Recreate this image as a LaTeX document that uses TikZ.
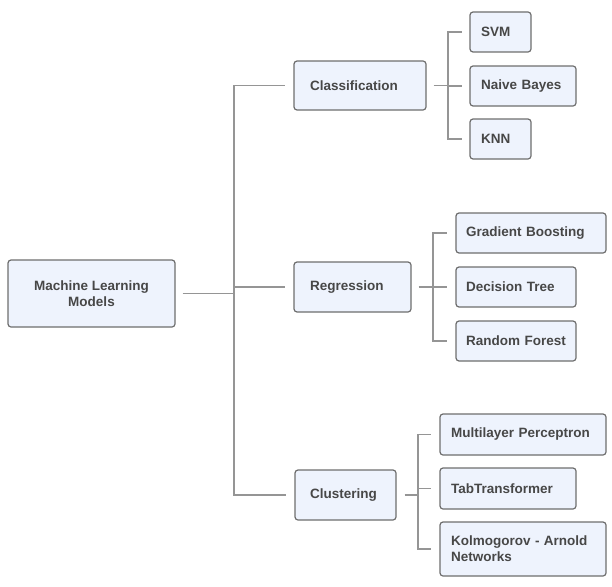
\documentclass[tikz,border=0pt]{standalone}
\usepackage{fontspec}
\setmainfont{Liberation Sans}
\usetikzlibrary{calc}
\definecolor{boxfill}{HTML}{EEF3FD}
\definecolor{boxline}{HTML}{6E6E6E}
\definecolor{txt}{HTML}{474747}
\definecolor{wire}{HTML}{959595}
\tikzset{
  box/.style={draw=boxline, fill=boxfill, line width=1.2pt, rounded corners=3pt,
    text=txt, font=\fontsize{13.5}{16}\selectfont\bfseries, inner ysep=0pt},
  conn/.style={draw=wire, line width=1.7pt},
}
% centred box: name, x, y, width, height
\newcommand{\cbx}[5]{%
  \node[box, align=center, inner xsep=0pt, minimum width=#4pt, minimum height=#5pt] (#1) at (#2,#3)}
% left-aligned box: name, x, y, width, height, left padding
\newcommand{\lbx}[6]{%
  \pgfmathsetmacro{\tw}{#4-2*#6}%
  \node[box, align=left, inner xsep=#6pt, text width=\tw pt, minimum height=#5pt] (#1) at (#2,#3)}
\begin{document}
\begin{tikzpicture}[x=1pt,y=-1pt]
\useasboundingbox (0,0) rectangle (612,586);

% root and categories
\cbx{root}{91.5}{293.5}{167}{67}{Machine Learning\\Models};
\lbx{cls}{360}{85.5}{132}{49}{16}{Classification};
\lbx{reg}{352.5}{287}{117}{50}{16}{Regression};
\lbx{clu}{345.5}{495}{101}{50}{15}{Clustering};

% leaves
\lbx{svm}{500.5}{32}{61}{40}{11}{SVM};
\lbx{nb}{523}{86}{106}{40}{11}{Naive Bayes};
\lbx{knn}{500.5}{139}{61}{40}{11}{KNN};
\lbx{gb}{531}{233}{150}{40}{10}{Gradient Boosting};
\lbx{dt}{516}{287}{120}{40}{10}{Decision Tree};
\lbx{rf}{516}{341}{120}{40}{10}{Random Forest};
\lbx{mlp}{523}{434.5}{166}{41}{11}{Multilayer Perceptron};
\lbx{tab}{508}{488.5}{136}{41}{11}{TabTransformer};
\lbx{kan}{523}{549}{166}{54}{11}{Kolmogorov - Arnold\\Networks};

% x positions of the vertical bars
\coordinate (mainbar) at (234,0);
\coordinate (clsbar) at (448,0);
\coordinate (regbar) at (433,0);
\coordinate (clubar) at (418,0);

% root to categories
\draw[conn, shorten <=7pt] (root.east) -- (root.east -| mainbar);
\foreach \c in {cls,reg,clu}
  \draw[conn, shorten >=8pt] (root.east -| mainbar) |- (\c.west);

% classification branch
\draw[conn, shorten <=7pt] (cls.east) -- (cls.east -| clsbar);
\foreach \c in {svm,nb,knn}
  \draw[conn, shorten >=7pt] (cls.east -| clsbar) |- (\c.west);

% regression branch
\draw[conn, shorten <=7pt] (reg.east) -- (reg.east -| regbar);
\foreach \c in {gb,dt,rf}
  \draw[conn, shorten >=8pt] (reg.east -| regbar) |- (\c.west);

% clustering branch
\draw[conn, shorten <=8pt] (clu.east) -- (clu.east -| clubar);
\foreach \c in {mlp,tab,kan}
  \draw[conn, shorten >=8pt] (clu.east -| clubar) |- (\c.west);
\end{tikzpicture}
\end{document}
